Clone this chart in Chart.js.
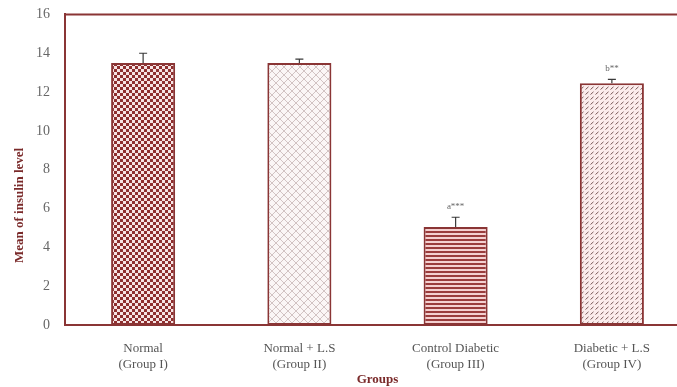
<!DOCTYPE html>
<html>
<head>
<meta charset="utf-8">
<script src="https://cdn.jsdelivr.net/npm/chart.js@4/dist/chart.umd.min.js"></script>
<style>
  html, body { margin: 0; padding: 0; background: #fff; overflow: hidden; }
  #wrap { position: absolute; left: 0; top: -9px; width: 692px; height: 396px; }
</style>
</head>
<body>
<div id="wrap"><canvas id="c" width="692" height="396"></canvas></div>
<script>
// Group names (two-line tick labels)
const groups = [
  ['Normal', '(Group I)'],
  ['Normal + L.S', '(Group II)'],
  ['Control Diabetic', '(Group III)'],
  ['Diabetic + L.S', '(Group IV)']
];
// Mean insulin level per group
const insulinMean = [13.5, 13.5, 5.05, 12.45];
// Standard error (upper whisker)
const insulinErr = [0.5, 0.2, 0.5, 0.2];
// Significance marks above the whiskers
const sigMarks = ['', '', 'a***', 'b**'];
// Y-axis ticks
const yTicks = [0, 2, 4, 6, 8, 10, 12, 14, 16];
const yTitle = 'Mean of insulin level';

const MAROON = '#8a3535';
const SERIF = '"Liberation Serif", "DejaVu Serif", serif';

function makePattern(w, h, draw) {
  const c = document.createElement('canvas');
  c.width = w; c.height = h;
  const g = c.getContext('2d');
  draw(g);
  return document.getElementById('c').getContext('2d').createPattern(c, 'repeat');
}

// checkerboard
const patChecker = makePattern(6, 6, g => {
  g.fillStyle = '#f6e4e4'; g.fillRect(0, 0, 6, 6);
  g.fillStyle = '#8e2f2f';
  g.fillRect(0, 0, 3, 3); g.fillRect(3, 3, 3, 3);
});
// light diamond cross-hatch
const patHatch = makePattern(8, 8, g => {
  g.fillStyle = '#fbf6f6'; g.fillRect(0, 0, 8, 8);
  g.strokeStyle = '#cdbdbd'; g.lineWidth = 0.9;
  g.beginPath();
  g.moveTo(0, 0); g.lineTo(8, 8);
  g.moveTo(8, 0); g.lineTo(0, 8);
  g.stroke();
});
// horizontal stripes
const patStripes = makePattern(4, 4, g => {
  g.fillStyle = '#f4d0d0'; g.fillRect(0, 0, 4, 4);
  g.fillStyle = '#9a3c3c'; g.fillRect(0, 0, 4, 2);
});
// rows of short slanted dashes
const patDashes = makePattern(5, 5, g => {
  g.fillStyle = '#fbecec'; g.fillRect(0, 0, 5, 5);
  g.strokeStyle = '#7a5a5a'; g.lineWidth = 1;
  g.beginPath();
  g.moveTo(0.5, 3.5); g.lineTo(3.5, 0.8);
  g.stroke();
});

// whiskers and significance marks
const errorBars = {
  id: 'errorBars',
  afterDatasetsDraw(chart) {
    const ctx = chart.ctx;
    const y = chart.scales.y;
    const meta = chart.getDatasetMeta(0);
    ctx.save();
    meta.data.forEach((bar, i) => {
      const x = bar.x;
      const y0 = y.getPixelForValue(insulinMean[i]);
      const y1 = y.getPixelForValue(insulinMean[i] + insulinErr[i]);
      ctx.strokeStyle = '#3a3a3a';
      ctx.lineWidth = 1.2;
      ctx.beginPath();
      ctx.moveTo(x, y0); ctx.lineTo(x, y1);
      ctx.moveTo(x - 4, y1); ctx.lineTo(x + 4, y1);
      ctx.stroke();
      if (sigMarks[i]) {
        ctx.fillStyle = '#666';
        ctx.font = '9px ' + SERIF;
        ctx.textAlign = 'center';
        ctx.textBaseline = 'bottom';
        ctx.fillText(sigMarks[i], x, y1 - 6);
      }
    });
    ctx.restore();
  }
};

// top frame line and the rotated y-axis title (set a little below centre)
const frameAndTitle = {
  id: 'frameAndTitle',
  beforeDatasetsDraw(chart) {
    const { ctx, chartArea } = chart;
    ctx.save();
    ctx.strokeStyle = MAROON;
    ctx.lineWidth = 2;
    ctx.beginPath();
    ctx.moveTo(chartArea.left, chartArea.top);
    ctx.lineTo(chartArea.right + 5, chartArea.top);
    ctx.stroke();

    const cy = chartArea.top + (chartArea.bottom - chartArea.top) * 0.615;
    ctx.translate(chartArea.left - 45, cy);
    ctx.rotate(-Math.PI / 2);
    ctx.fillStyle = '#7a2a2a';
    ctx.font = 'bold 13px ' + SERIF;
    ctx.textAlign = 'center';
    ctx.textBaseline = 'middle';
    ctx.fillText(yTitle, 0, 0);
    ctx.restore();
  }
};

new Chart(document.getElementById('c'), {
  type: 'bar',
  data: {
    labels: groups,
    datasets: [{
      data: insulinMean,
      backgroundColor: [patChecker, patHatch, patStripes, patDashes],
      borderColor: MAROON,
      borderWidth: 2,
      borderSkipped: false,
      barPercentage: 0.41,
      categoryPercentage: 1
    }]
  },
  options: {
    responsive: false,
    animation: false,
    events: [],
    layout: { padding: { top: 6, right: 2, bottom: 0, left: 0 } },
    plugins: { legend: { display: false }, tooltip: { enabled: false } },
    scales: {
      x: {
        grid: { display: false, drawTicks: false },
        border: { color: MAROON, width: 2 },
        ticks: {
          color: '#555',
          font: { family: SERIF, size: 13 },
          padding: 16,
          maxRotation: 0
        },
        title: {
          display: true,
          text: 'Groups',
          color: '#7a2a2a',
          font: { family: SERIF, size: 13, weight: 'bold' },
          padding: { top: 0, bottom: 0 }
        },
        afterFit(s) { s.height = 62; }
      },
      y: {
        min: 0, max: 16,
        afterBuildTicks(s) { s.ticks = yTicks.map(v => ({ value: v })); },
        grid: { display: false, drawTicks: false },
        border: { color: MAROON, width: 2 },
        ticks: {
          color: '#666',
          font: { family: SERIF, size: 14 },
          padding: 15
        },
        afterFit(s) { s.width = 65; }
      }
    }
  },
  plugins: [frameAndTitle, errorBars]
});
</script>
</body>
</html>
